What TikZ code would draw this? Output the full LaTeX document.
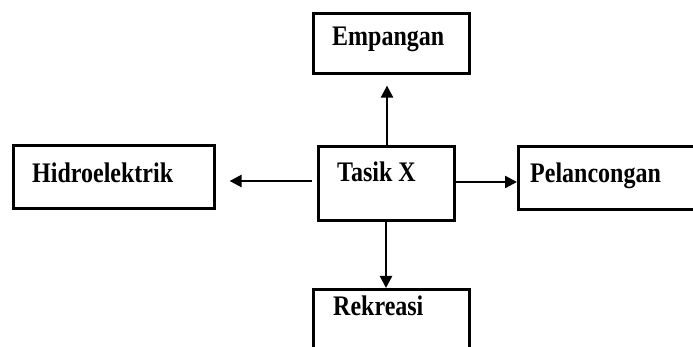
\documentclass[tikz,border=0pt]{standalone}
\usepackage{fontspec}
\setmainfont{Liberation Serif}
\usetikzlibrary{arrows.meta}
\newcommand{\tallbf}[1]{\scalebox{1}[1.18]{#1}}
\begin{document}
\begin{tikzpicture}[x=1pt,y=-1pt,
  boxnode/.style={draw,line width=2.6pt,rectangle,inner sep=0pt,anchor=north west},
  txt/.style={inner sep=0pt,anchor=base west,font=\bfseries\fontsize{24}{28}\selectfont},
  conn/.style={line width=2.4pt,-{Triangle[length=12pt,width=12pt]}}]
\useasboundingbox (0,0) rectangle (693,347);
\clip (0,0) rectangle (693,347);
% boxes
\node[boxnode,minimum width=156pt,minimum height=60pt] (emp) at (312,12) {};
\node[boxnode,minimum width=201pt,minimum height=63pt] (hid) at (12,144) {};
\node[boxnode,minimum width=136pt,minimum height=74pt] (tas) at (317,145) {};
\node[boxnode,minimum width=200pt,minimum height=63pt] (pel) at (517,145) {};
\node[boxnode,minimum width=156pt,minimum height=90pt] (rek) at (312,288) {};
% texts
\node[txt] (empT) at (332,46) {\tallbf{Empangan}};
\node[txt] (hidT) at (32,183) {\tallbf{Hidroelektrik}};
\node[txt] (tasT) at (337,182) {\tallbf{Tasik X}};
\node[txt] (pelT) at (530,183) {\tallbf{Pelancongan}};
\node[txt] (rekT) at (333,315) {\tallbf{Rekreasi}};
% connectors
\draw[conn,shorten >=11pt] (tas.north -| 387,0) -- (emp.south -| 387,0);
\draw[conn,shorten <=5pt,shorten >=14pt] (tas.west |- 0,181) -- (hid.east |- 0,181);
\draw[conn] (tas.east |- 0,182) -- (pel.west |- 0,182);
\draw[conn] (tas.south -| 386,0) -- (rek.north -| 386,0);
\end{tikzpicture}
\end{document}
